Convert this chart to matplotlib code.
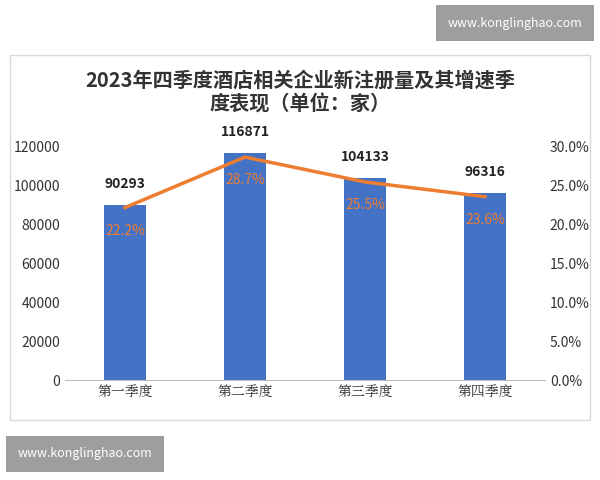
import matplotlib.pyplot as plt
import matplotlib.patches as mpatches

plt.rcParams['font.family'] = ['Noto Sans CJK SC', 'DejaVu Sans']

quarters = ["第一季度", "第二季度", "第三季度", "第四季度"]
counts = [90293, 116871, 104133, 96316]
growth = [22.2, 28.7, 25.5, 23.6]

fig = plt.figure(figsize=(6, 4.8), dpi=100)
fig.patch.set_facecolor("white")

# chart border
fig.patches.append(mpatches.Rectangle((10/600, 1-420/480), 580/600, 365/480, transform=fig.transFigure,
                                      fill=False, edgecolor="#d9d9d9", lw=1))

ax = fig.add_axes([65/600, 1-380/480, 480/600, 233/480])
x = range(len(quarters))
ax.bar(x, counts, width=0.35, color="#4472C4", zorder=2)
ax.set_ylim(0, 120000)
ax.set_yticks(range(0, 120001, 20000))
ax.set_xlim(-0.5, 3.5)
ax.set_xticks(list(x))
ax.set_xticklabels(quarters, family=['Noto Serif CJK SC', 'Noto Sans CJK SC'], fontsize=10)
for s in ["top", "right", "left"]:
    ax.spines[s].set_visible(False)
ax.spines["bottom"].set_color("#bfbfbf")
ax.tick_params(axis="y", length=0, labelsize=10, colors="#333333")
ax.tick_params(axis="x", length=0, colors="#333333")
for i, v in enumerate(counts):
    ax.text(i, v + 7000, str(v), ha="center", va="bottom", fontsize=10, fontweight="bold", color="#222222")

ax2 = ax.twinx()
ax2.plot(list(x), growth, color="#ED7D31", lw=2.5, zorder=3)
ax2.set_ylim(0, 30)
ax2.set_yticks([0, 5, 10, 15, 20, 25, 30])
ax2.set_yticklabels([f"{t:.1f}%" for t in [0, 5, 10, 15, 20, 25, 30]])
for s in ["top", "right", "left", "bottom"]:
    ax2.spines[s].set_visible(False)
ax2.tick_params(axis="y", length=0, labelsize=10, colors="#333333")
for i, g in enumerate(growth):
    ax2.text(i, g - 3.0, f"{g}%", ha="center", va="center", fontsize=10, color="#ED7D31")

fig.text(300/600, 1-80/480, "2023年四季度酒店相关企业新注册量及其增速季", ha="center", va="center",
         fontsize=14.5, fontweight="bold", color="#333333")
fig.text(300/600, 1-104/480, "度表现（单位：家）", ha="center", va="center",
         fontsize=14.5, fontweight="bold", color="#333333")

# watermarks
fig.text(515/600, 1-23/480, "www.konglinghao.com", ha="center", va="center", fontsize=9, color="white",
         bbox=dict(boxstyle="square,pad=0.9", fc="#9e9e9e", ec="none"))
fig.text(85/600, 1-454/480, "www.konglinghao.com", ha="center", va="center", fontsize=9, color="white",
         bbox=dict(boxstyle="square,pad=0.9", fc="#9e9e9e", ec="none"))

fig.savefig("out.png", dpi=100)
